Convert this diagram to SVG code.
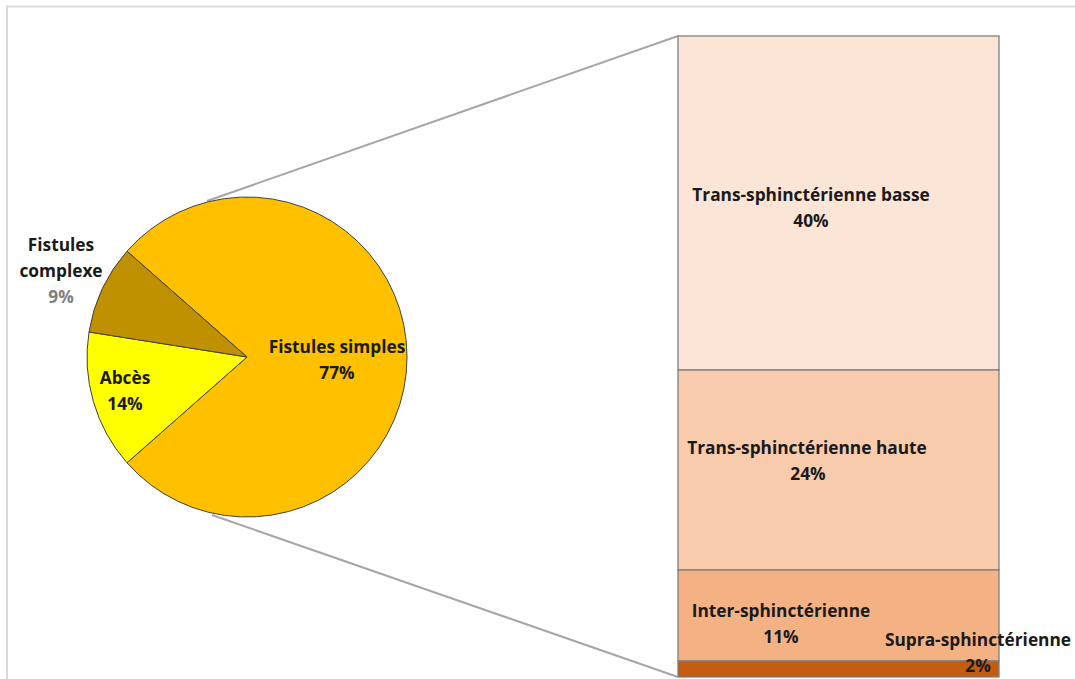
<svg xmlns="http://www.w3.org/2000/svg" width="1075" height="679" viewBox="0 0 1075 679">
<style>
.t{font-family:"Open Sans",Lato,"Liberation Sans",sans-serif;font-weight:bold;font-size:17.3px;fill:#1a1a1a;text-anchor:middle}
.g{fill:#7f7f7f}
.pie{stroke:#404040;stroke-width:1}
.bar{stroke:#7f7f7f;stroke-width:1.3}
.conn{stroke:#a6a6a6;stroke-width:2;fill:none}
</style>
<rect width="1075" height="679" fill="#ffffff"/>
<g id="frame" fill="none" stroke="#d9d9d9" stroke-width="2">
<path d="M7 679 V6.5 H1075"/>
</g>
<g id="connectors">
<line class="conn" x1="207" y1="201" x2="678" y2="36"/>
<line class="conn" x1="212" y1="515" x2="678" y2="677"/>
</g>
<g id="pie">
<g id="slice-simples">
<path class="pie" fill="#FFC000" d="M247 357 L127 251.2 A160 160 0 1 1 127 462.8 Z"/>
<text class="t" x="337" y="353">Fistules simples</text>
<text class="t" x="337" y="379">77%</text>
</g>
<g id="slice-abces">
<path class="pie" fill="#FFFF00" d="M247 357 L127 462.8 A160 160 0 0 1 89 332 Z"/>
<text class="t" x="125" y="384">Abcès</text>
<text class="t" x="125" y="410">14%</text>
</g>
<g id="slice-complexe">
<path class="pie" fill="#BF9000" d="M247 357 L89 332 A160 160 0 0 1 127 251.2 Z"/>
<text class="t" x="61" y="251">Fistules</text>
<text class="t" x="61" y="277">complexe</text>
<text class="t g" x="61" y="303">9%</text>
</g>
</g>
<g id="bar">
<g id="bar-basse">
<rect class="bar" fill="#FBE5D6" x="678" y="36" width="321" height="334"/>
<text class="t" x="811" y="201">Trans-sphinctérienne basse</text>
<text class="t" x="811" y="227">40%</text>
</g>
<g id="bar-haute">
<rect class="bar" fill="#F8CBAD" x="678" y="370" width="321" height="200"/>
<text class="t" x="807" y="454">Trans-sphinctérienne haute</text>
<text class="t" x="808" y="480">24%</text>
</g>
<g id="bar-inter">
<rect class="bar" fill="#F4B183" x="678" y="570" width="321" height="91"/>
<text class="t" x="781" y="617">Inter-sphinctérienne</text>
<text class="t" x="781" y="643">11%</text>
</g>
<g id="bar-supra">
<rect class="bar" fill="#C55A11" x="678" y="661" width="321" height="16"/>
<text class="t" x="978" y="646">Supra-sphinctérienne</text>
<text class="t" x="978" y="672">2%</text>
</g>
</g>
</svg>
